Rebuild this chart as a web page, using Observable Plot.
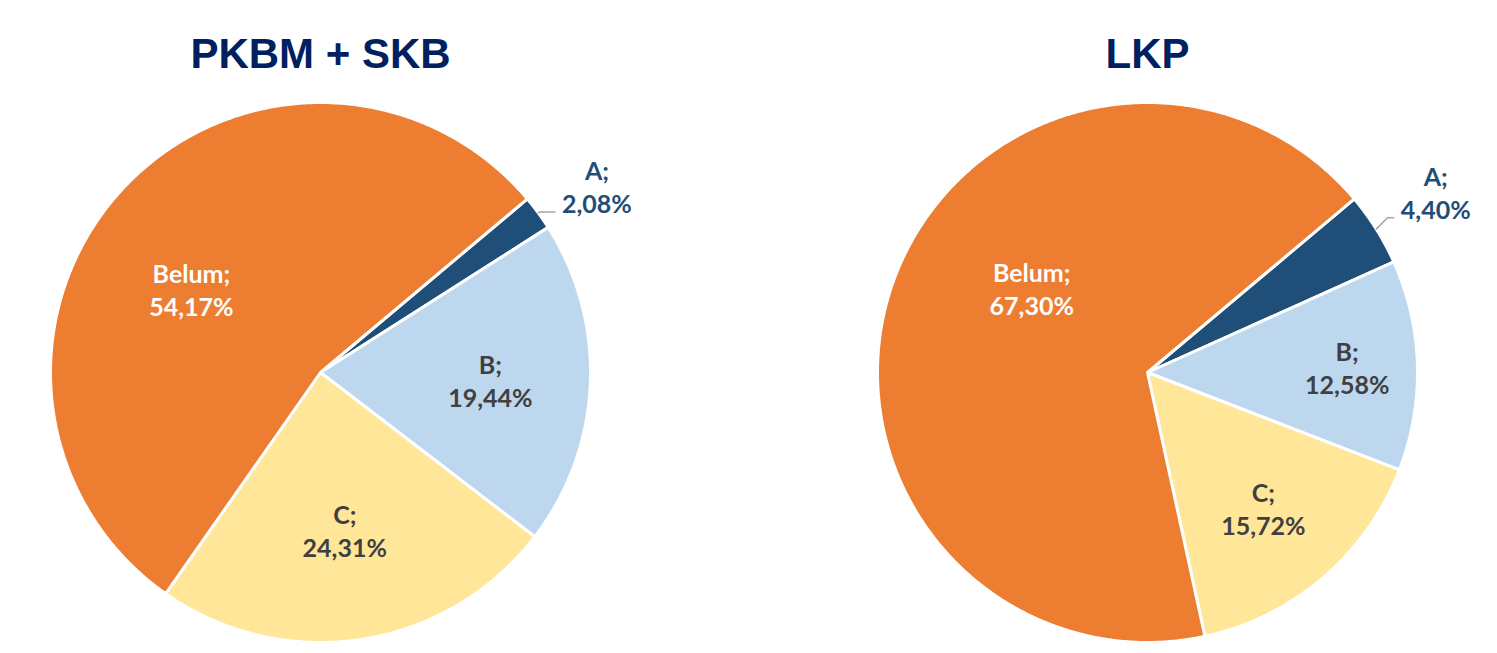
<!DOCTYPE html>
<html>
<head>
<meta charset="utf-8">
<script src="https://cdn.jsdelivr.net/npm/d3@7"></script>
<script src="https://cdn.jsdelivr.net/npm/@observablehq/plot@0.6"></script>
<style>
  html, body { margin: 0; padding: 0; background: #fff; }
</style>
</head>
<body>
<div id="chart"></div>
<script>
// ---- data ----
const categories = ["A", "B", "C", "Belum"];
const pkbmSkbValues = [2.08, 19.44, 24.31, 54.17];
const lkpValues = [4.40, 12.58, 15.72, 67.30];
const pieTitles = ["PKBM + SKB", "LKP"];
const sliceColors = ["#1F4E79", "#BDD7EE", "#FFE699", "#ED7D31"];

// ---- layout (code-level, not data) ----
const W = 1497, H = 653, R = 270;
const centersPx = [[320, 372], [1147, 372]];
const startAngle = 50; // degrees clockwise from north
const labelPlacement = [
  {A: {r: 1.235, angle: 56}, B: {r: 0.63}, C: {r: 0.59}, Belum: {r: 0.57, angle: 303}},
  {A: {r: 1.26}, B: {r: 0.74}, C: {r: 0.66}, Belum: {r: 0.53, angle: 306}}
];
const labelFill = {A: "#1F4E79", B: "#404040", C: "#404040", Belum: "#ffffff"};

const toUnitsX = px => (px - centersPx[0][0]) / R;
const toUnitsY = py => (centersPx[0][1] - py) / R;
const xDomain = [toUnitsX(0), toUnitsX(W)];
const yDomain = [toUnitsY(H), toUnitsY(0)];

const pies = [pkbmSkbValues, lkpValues].map((values, i) => ({
  title: pieTitles[i],
  values,
  cx: toUnitsX(centersPx[i][0]),
  cy: toUnitsY(centersPx[i][1])
}));

const polar = (p, deg, r) => {
  const t = deg * Math.PI / 180;
  return [p.cx + r * Math.sin(t), p.cy + r * Math.cos(t)];
};

const slicePoints = [];
const labels = [];
const leaders = [];
const titles = [];

pies.forEach((p, pi) => {
  const total = d3.sum(p.values);
  let a0 = startAngle;
  p.values.forEach((v, ci) => {
    const cat = categories[ci];
    const sweep = v / total * 360;
    const a1 = a0 + sweep;
    const key = pi + "-" + cat;
    slicePoints.push({key, cat, x: p.cx, y: p.cy});
    const n = Math.max(2, Math.ceil(sweep / 0.5));
    for (let k = 0; k <= n; ++k) {
      const [x, y] = polar(p, a0 + (a1 - a0) * k / n, 1);
      slicePoints.push({key, cat, x, y});
    }
    const cfg = labelPlacement[pi][cat];
    const mid = (a0 + a1) / 2;
    const [lx, ly] = polar(p, cfg.angle ?? mid, cfg.r);
    labels.push({cat, x: lx, y: ly, text: `${cat};\n${v.toFixed(2).replace(".", ",")}%`});
    if (cfg.r > 1) {
      const [sx, sy] = polar(p, mid, 1);
      const ey = ly - 26 / R;
      const ex = lx - 42 / R;
      const elbowX = sx + Math.max(0.006, Math.abs(ey - sy));
      leaders.push({key: key, x: sx, y: sy});
      leaders.push({key: key, x: elbowX, y: ey});
      leaders.push({key: key, x: ex, y: ey});
    }
    a0 = a1;
  });
  titles.push({x: p.cx, y: toUnitsY(53.6), text: p.title});
});

const labelMark = color => Plot.text(labels.filter(d => labelFill[d.cat] === color), {
  x: "x", y: "y", text: "text",
  fill: color, fontFamily: "Lato", fontWeight: "bold", fontSize: 25,
  lineHeight: 1.32, textAnchor: "middle", lineAnchor: "middle"
});

const chart = Plot.plot({
  width: W,
  height: H,
  margin: 0,
  x: {domain: xDomain, axis: null},
  y: {domain: yDomain, axis: null},
  color: {domain: categories, range: sliceColors},
  style: {background: "#fff"},
  marks: [
    Plot.line(slicePoints, {
      x: "x", y: "y", z: "key", fill: "cat",
      stroke: "#fff", strokeWidth: 3, strokeLinejoin: "round",
      curve: "linear-closed"
    }),
    Plot.line(leaders, {x: "x", y: "y", z: "key", stroke: "#A6A6A6", strokeWidth: 1.5}),
    labelMark("#ffffff"),
    labelMark("#404040"),
    labelMark("#1F4E79"),
    Plot.text(titles, {
      x: "x", y: "y", text: "text",
      fill: "#002060", fontFamily: "Liberation Sans", fontWeight: "bold", fontSize: 42,
      textAnchor: "middle", lineAnchor: "middle"
    })
  ]
});
document.getElementById("chart").appendChild(chart);
</script>
</body>
</html>
